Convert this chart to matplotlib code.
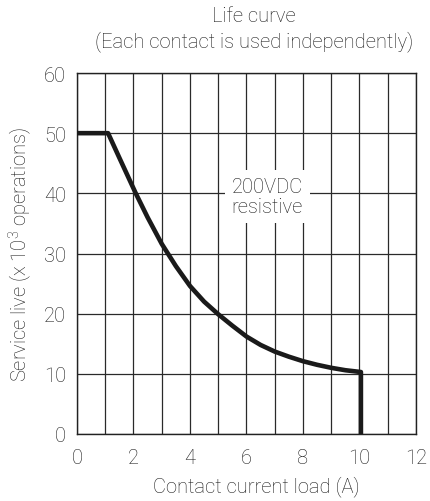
import numpy as np
import matplotlib
matplotlib.use("Agg")
import matplotlib.pyplot as plt

# life curve
current_a = [0, 1.1, 1.5, 2.08, 2.5, 3.0, 3.5, 4, 4.5, 5, 5.5, 6, 6.5, 7, 7.5, 8, 8.5, 9, 9.5, 10.05, 10.05]
life_k_ops = [50, 50, 45.9, 40, 36.0, 31.6, 27.9, 24.6, 22.0, 19.9, 18.0, 16.2, 14.8, 13.7, 12.85, 12.1, 11.5, 11.0, 10.6, 10.3, 0]

x_ticks = [0, 2, 4, 6, 8, 10, 12]
y_ticks = [0, 10, 20, 30, 40, 50, 60]

plt.rcParams['font.family'] = ['Roboto', 'DejaVu Sans']
plt.rcParams['font.weight'] = 'light'
plt.rcParams['axes.labelweight'] = 'light'
plt.rcParams['mathtext.default'] = 'regular'
txt = '#1a1a1a'
fs = 14.5

fig = plt.figure(figsize=(4.31, 5.02), dpi=100)
ax = fig.add_axes([77 / 431, 1 - 435 / 502, (416 - 77) / 431, (435 - 74) / 502])

ax.set_xlim(0, 12)
ax.set_ylim(0, 60)
ax.set_xticks(np.arange(0, 13, 1), minor=True)
ax.set_xticks(x_ticks)
ax.set_yticks(y_ticks)
ax.grid(True, which='both', axis='x', color='#2a2a2a', lw=0.9)
ax.grid(True, which='major', axis='y', color='#2a2a2a', lw=0.9)
ax.tick_params(which='both', length=0, labelsize=fs, colors=txt)
ax.tick_params(axis='x', pad=10)
ax.tick_params(axis='y', pad=8)
for s in ax.spines.values():
    s.set_color('#222222')
    s.set_linewidth(1.0)

ax.plot(current_a, life_k_ops, color='#1a1a1a', lw=3.3, solid_joinstyle='round', zorder=3)

ax.text(6.73, 39.5, '200VDC\nresistive', ha='center', va='center', fontsize=fs,
        color=txt, linespacing=1.1,
        bbox=dict(fc='white', ec='none', pad=5), zorder=4)

ax.set_xlabel('Contact current load (A)', fontsize=fs, color=txt, labelpad=5)
ax.xaxis.set_label_coords((256 - 77) / 339, -0.115)
ax.set_ylabel('Service live (x 10$^3$ operations)', fontsize=fs, color=txt, labelpad=7)

fig.text(254 / 431, 1 - 17 / 502, 'Life curve', ha='center', va='center', fontsize=fs, color=txt)
fig.text(254 / 431, 1 - 42 / 502, '(Each contact is used independently)', ha='center', va='center',
         fontsize=fs, color=txt)

fig.savefig('out.png', dpi=100)
